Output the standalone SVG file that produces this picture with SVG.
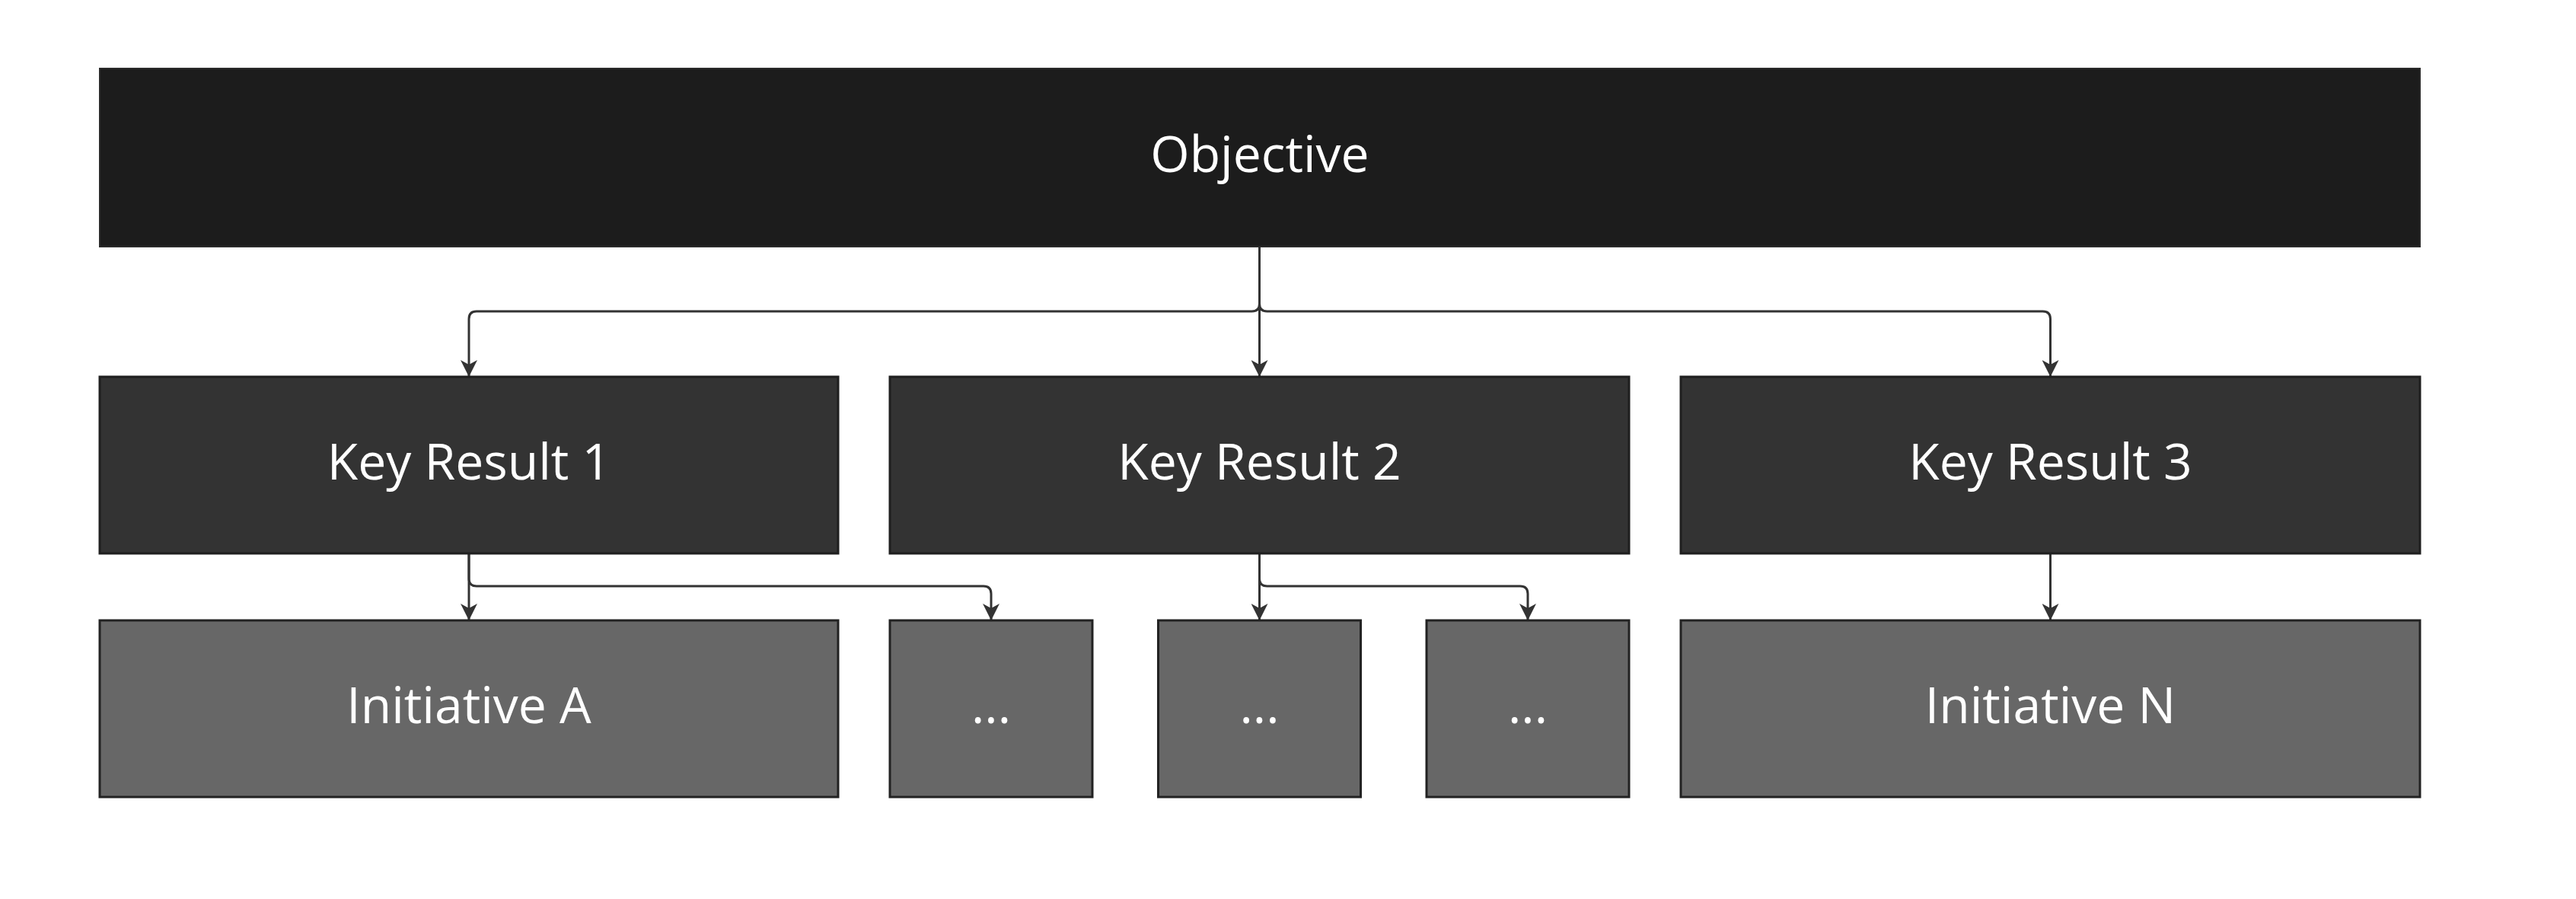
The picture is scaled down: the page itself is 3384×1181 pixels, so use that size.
<svg xmlns="http://www.w3.org/2000/svg" width="3384" height="1181" viewBox="0 0 3384 1181">
  <style>
    .obj { fill: #1c1c1c; stroke: #2a2a2a; stroke-width: 2; }
    .kr { fill: #333333; stroke: #1f1f1f; stroke-width: 3; }
    .ini { fill: #676767; stroke: #222222; stroke-width: 3; }
    .lbl { font-family: "Open Sans", "Noto Sans", sans-serif; font-size: 66px; fill: #ffffff; text-anchor: middle; }
    .conn { fill: none; stroke: #333333; stroke-width: 3; }
  </style>
  <defs>
    <marker id="arrow" viewBox="0 0 22 22" refX="22" refY="11" markerWidth="22" markerHeight="22" markerUnits="userSpaceOnUse" orient="auto">
      <path d="M0,0 L22,11 L0,22 L6,11 Z" fill="#333333"/>
    </marker>
  </defs>
  <rect x="0" y="0" width="3384" height="1181" fill="#ffffff"/>

  <g id="connectors">
    <path class="conn" marker-end="url(#arrow)" d="M1654.5,324 V399 Q1654.5,409 1644.5,409 H626 Q616,409 616,419 V495"/>
    <path class="conn" marker-end="url(#arrow)" d="M1654.5,324 V495"/>
    <path class="conn" marker-end="url(#arrow)" d="M1654.5,324 V399 Q1654.5,409 1664.5,409 H2683.5 Q2693.5,409 2693.5,419 V495"/>
    <path class="conn" marker-end="url(#arrow)" d="M616,727 V815"/>
    <path class="conn" marker-end="url(#arrow)" d="M616,727 V760 Q616,770 626,770 H1292 Q1302,770 1302,780 V815"/>
    <path class="conn" marker-end="url(#arrow)" d="M1654.5,727 V815"/>
    <path class="conn" marker-end="url(#arrow)" d="M1654.5,727 V760 Q1654.5,770 1664.5,770 H1997 Q2007,770 2007,780 V815"/>
    <path class="conn" marker-end="url(#arrow)" d="M2693.5,727 V815"/>
  </g>

  <g id="objective">
    <rect class="obj" x="131" y="90" width="3048" height="234"/>
    <text class="lbl" x="1655" y="226">Objective</text>
  </g>

  <g id="kr1">
    <rect class="kr" x="131" y="495" width="970" height="232"/>
    <text class="lbl" x="616" y="630">Key Result 1</text>
  </g>
  <g id="kr2">
    <rect class="kr" x="1169" y="495" width="971" height="232"/>
    <text class="lbl" x="1654.5" y="630">Key Result 2</text>
  </g>
  <g id="kr3">
    <rect class="kr" x="2208" y="495" width="971" height="232"/>
    <text class="lbl" x="2693.5" y="630">Key Result 3</text>
  </g>

  <g id="initiative-a">
    <rect class="ini" x="131" y="815" width="970" height="232"/>
    <text class="lbl" x="616" y="950">Initiative A</text>
  </g>
  <g id="dots1">
    <rect class="ini" x="1169" y="815" width="266" height="232"/>
    <text class="lbl" x="1302" y="950">...</text>
  </g>
  <g id="dots2">
    <rect class="ini" x="1521.5" y="815" width="266" height="232"/>
    <text class="lbl" x="1654.5" y="950">...</text>
  </g>
  <g id="dots3">
    <rect class="ini" x="1874" y="815" width="266" height="232"/>
    <text class="lbl" x="2007" y="950">...</text>
  </g>
  <g id="initiative-n">
    <rect class="ini" x="2208" y="815" width="971" height="232"/>
    <text class="lbl" x="2693.5" y="950">Initiative N</text>
  </g>
</svg>
